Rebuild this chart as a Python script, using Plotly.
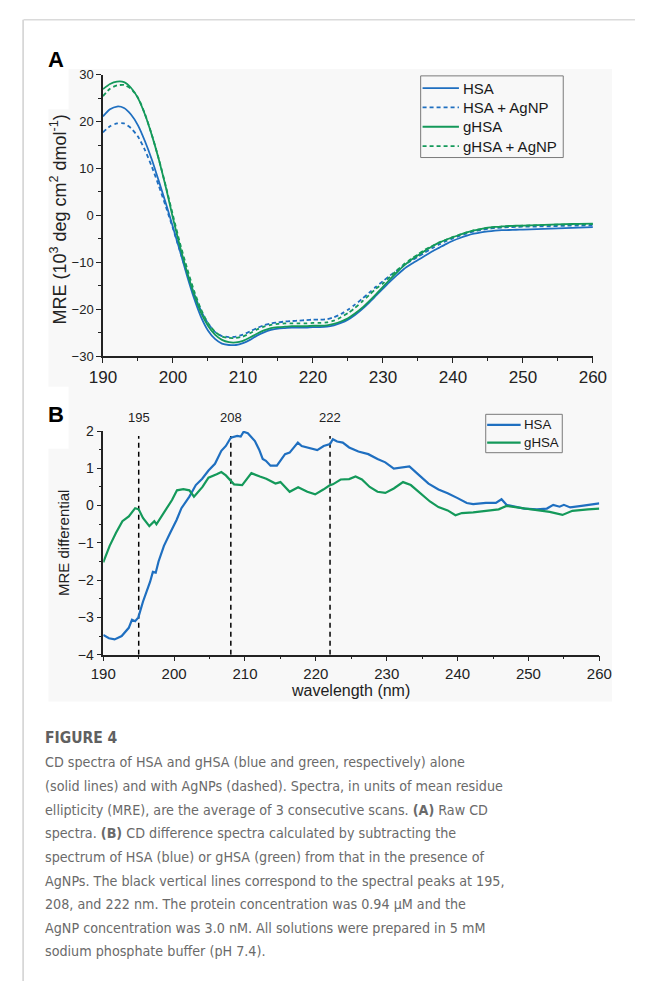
import plotly.graph_objects as go

W, H = 649, 989

# ---- Panel A: raw CD spectra (MRE, 10^3 deg cm^2 dmol^-1) ----
wl_a = list(range(190, 251)) + [252, 254, 256, 258, 260]

hsa = [21.1, 22.6, 23.2, 22.9, 21.5, 19.2, 15.8, 11.8, 7.2, 2.5,
       -2.5, -7.6, -12.8, -17.6, -21.6, -24.5, -26.3, -27.3, -27.6, -27.6,
       -27.2, -26.5, -25.6, -24.9, -24.4, -24.1, -24.0, -23.9, -23.9, -23.9,
       -23.8, -23.8, -23.7, -23.4, -22.9, -22.2, -21.2, -20.0, -18.6, -17.1,
       -15.6, -14.1, -12.7, -11.4, -10.4, -9.5, -8.6, -7.7, -6.9, -6.1,
       -5.4, -4.8, -4.3, -3.9, -3.6, -3.4, -3.25, -3.15, -3.1, -3.05,
       -3.0,
       -2.9, -2.8, -2.7, -2.6, -2.5]

hsa_agnp = [17.7, 19.0, 19.6, 19.6, 18.6, 16.8, 13.9, 10.3, 6.2, 1.8,
            -2.8, -7.6, -12.3, -16.6, -20.3, -23.0, -24.8, -25.7, -25.9, -25.8,
            -25.4, -24.7, -24.0, -23.4, -23.0, -22.8, -22.6, -22.5, -22.4, -22.3,
            -22.2, -22.2, -22.1, -21.7, -21.0, -20.1, -19.0, -17.8, -16.5, -15.2,
            -14.0, -12.8, -11.7, -10.6, -9.7, -8.8, -7.9, -7.0, -6.2, -5.5,
            -4.9, -4.3, -3.8, -3.4, -3.1, -2.85, -2.7, -2.6, -2.5, -2.45,
            -2.4,
            -2.35, -2.3, -2.2, -2.15, -2.1]

ghsa = [26.9, 28.0, 28.5, 28.4, 27.2, 25.0, 21.5, 17.0, 11.8, 5.9,
        -0.6, -6.6, -12.0, -16.8, -20.7, -23.5, -25.4, -26.5, -27.0, -27.05,
        -26.7, -26.0, -25.2, -24.5, -24.0, -23.8, -23.7, -23.6, -23.6, -23.6,
        -23.5, -23.5, -23.4, -23.1, -22.6, -21.9, -20.9, -19.7, -18.3, -16.8,
        -15.2, -13.6, -12.1, -10.7, -9.5, -8.5, -7.5, -6.6, -5.8, -5.2,
        -4.6, -4.1, -3.6, -3.2, -2.9, -2.6, -2.45, -2.35, -2.25, -2.2,
        -2.15,
        -2.05, -1.95, -1.85, -1.8, -1.75]

ghsa_agnp = [25.4, 27.0, 27.7, 27.8, 27.0, 25.1, 21.6, 17.1, 11.9, 6.1,
             0.0, -5.9, -11.2, -16.0, -20.0, -22.9, -24.8, -25.8, -26.1, -26.1,
             -25.8, -25.1, -24.3, -23.7, -23.3, -23.1, -23.0, -23.0, -23.0, -23.0,
             -22.9, -22.9, -22.8, -22.4, -21.7, -20.8, -19.7, -18.4, -17.0, -15.6,
             -14.5, -13.1, -11.7, -10.4, -9.3, -8.3, -7.3, -6.5, -5.8, -5.2,
             -4.6, -4.1, -3.6, -3.2, -2.9, -2.65, -2.5, -2.4, -2.3, -2.25,
             -2.2,
             -2.1, -2.0, -1.95, -1.9, -1.85]

# ---- Panel B: CD difference spectra (with AgNP minus protein alone) ----
wl_b_hsa = [190, 190.8, 191.6, 192.6, 193.6, 194.05, 194.5, 194.95, 195.6, 196.3,
            196.6, 197.0, 197.4, 197.8, 198.56, 199.45, 200.36, 201.03, 202.15, 203.06,
            203.96, 204.85, 205.76, 206.66, 207.3, 208.0, 208.9, 209.4, 209.8, 210.4,
            211.4, 212.0, 212.5, 212.95, 213.6, 214.5, 215.0, 215.65, 216.3, 216.8,
            217.46, 218.0, 218.8, 219.5, 220.2, 221.1, 222.0, 222.4, 223.0, 223.8,
            224.7, 226.0, 227.4, 228.7, 229.8, 231.0, 232.3, 233.2, 234.6, 235.9,
            237.3, 238.6, 240.0, 241.3, 242.2, 243.0, 244.0, 245.4, 246.2, 246.9,
            248.1, 249.4, 251.2, 252.6, 253.5, 254.4, 255.0, 255.9, 257.5, 260]
diff_hsa = [-3.47, -3.56, -3.59, -3.5, -3.28, -3.06, -3.1, -3.0, -2.58, -2.22,
            -2.05, -1.78, -1.8, -1.5, -1.08, -0.73, -0.38, -0.07, 0.24, 0.55,
            0.72, 0.94, 1.12, 1.47, 1.6, 1.82, 1.87, 1.85, 1.98, 1.94,
            1.73, 1.5, 1.25, 1.2, 1.07, 1.07, 1.2, 1.38, 1.42, 1.55,
            1.69, 1.6, 1.56, 1.52, 1.49, 1.6, 1.65, 1.78, 1.72, 1.69,
            1.56, 1.45, 1.38, 1.25, 1.16, 0.99, 1.03, 1.05, 0.81, 0.59,
            0.43, 0.33, 0.2, 0.07, 0.04, 0.06, 0.07, 0.07, 0.17, 0.02,
            -0.03, -0.08, -0.1, -0.08, 0.02, -0.03, 0.02, -0.05, -0.01, 0.06]

wl_b_ghsa = [190, 190.9, 191.8, 192.7, 193.6, 194.5, 195.0, 195.6, 196.5, 197.2,
             197.5, 198.3, 199.0, 199.7, 200.4, 201.3, 202.15, 202.8, 204.0, 204.85,
             206.0, 206.66, 207.3, 208.45, 209.6, 210.9, 212.1, 213.0, 214.3, 215.0,
             216.3, 217.5, 218.8, 219.9, 221.05, 222.0, 222.4, 223.5, 224.7, 225.6,
             226.5, 227.6, 228.7, 229.8, 231.0, 232.3, 233.4, 234.8, 236.1, 237.3,
             238.6, 239.7, 240.6, 242.2, 244.0, 245.8, 246.9, 248.1, 249.4, 251.2,
             253.0, 254.8, 256.2, 258.4, 260]
diff_ghsa = [-1.52, -1.08, -0.73, -0.42, -0.29, -0.07, -0.1, -0.33, -0.55, -0.42,
             -0.5, -0.25, -0.07, 0.15, 0.41, 0.44, 0.41, 0.24, 0.5, 0.75,
             0.84, 0.9, 0.81, 0.57, 0.55, 0.87, 0.78, 0.72, 0.59, 0.63,
             0.37, 0.49, 0.37, 0.3, 0.43, 0.55, 0.57, 0.7, 0.71, 0.78,
             0.7, 0.5, 0.37, 0.34, 0.46, 0.63, 0.55, 0.33, 0.11, -0.04,
             -0.13, -0.26, -0.2, -0.18, -0.13, -0.1, -0.01, -0.04, -0.08, -0.12,
             -0.17, -0.25, -0.14, -0.1, -0.08]

peaks = [195, 208, 222]
peak_line_top = 1.87

caption_title = "FIGURE 4"
caption_lines = [
    "CD spectra of HSA and gHSA (blue and green, respectively) alone",
    "(solid lines) and with AgNPs (dashed). Spectra, in units of mean residue",
    "ellipticity (MRE), are the average of 3 consecutive scans. <b>(A)</b> Raw CD",
    "spectra. <b>(B)</b> CD difference spectra calculated by subtracting the",
    "spectrum of HSA (blue) or gHSA (green) from that in the presence of",
    "AgNPs. The black vertical lines correspond to the spectral peaks at 195,",
    "208, and 222 nm. The protein concentration was 0.94 μM and the",
    "AgNP concentration was 3.0 nM. All solutions were prepared in 5 mM",
    "sodium phosphate buffer (pH 7.4).",
]

BLUE = "#1f6fc0"
GREEN = "#14995a"
FONT = "Arial, Liberation Sans, sans-serif"
AXIS = "#222222"
DASH = "4px,3px"


def px_x(x):
    """Pixel column -> paper fraction."""
    return x / W


def px_y(y):
    """Pixel row -> paper fraction."""
    return 1 - y / H


fig = go.Figure()

# panel A traces
series_a = [
    ("HSA", hsa, BLUE, "solid"),
    ("HSA + AgNP", hsa_agnp, BLUE, DASH),
    ("gHSA", ghsa, GREEN, "solid"),
    ("gHSA + AgNP", ghsa_agnp, GREEN, DASH),
]
for name, vals, col, dash in series_a:
    fig.add_trace(go.Scatter(
        x=wl_a, y=vals, name=name, mode="lines", showlegend=False,
        line=dict(color=col, width=1.8, dash=dash, shape="spline", smoothing=0.6),
        xaxis="x", yaxis="y"))

# panel B peak markers
for p in peaks:
    fig.add_trace(go.Scatter(
        x=[p, p], y=[-4, peak_line_top], mode="lines", showlegend=False,
        line=dict(color="black", width=1.5, dash="5px,4px"),
        xaxis="x2", yaxis="y2", hoverinfo="skip"))

# panel B traces
series_b = [
    ("HSA", wl_b_hsa, diff_hsa, BLUE),
    ("gHSA", wl_b_ghsa, diff_ghsa, GREEN),
]
for name, xs, ys, col in series_b:
    fig.add_trace(go.Scatter(x=xs, y=ys, name=name, mode="lines", showlegend=False,
                             line=dict(color=col, width=2.2),
                             xaxis="x2", yaxis="y2"))

axis_common = dict(showline=True, linecolor=AXIS, linewidth=1.5, ticks="outside",
                   tickcolor=AXIS, tickwidth=1.3, ticklen=5, showgrid=False,
                   zeroline=False, mirror=False)

# pixel geometry of the two panels
a_left, a_right, a_top, a_bot = 93, 605, 67.7, 354
b_left, b_right, b_top, b_bot = 93.3, 611.7, 430, 657.3

fig.update_layout(
    width=W, height=H,
    margin=dict(l=0, r=0, t=0, b=0),
    paper_bgcolor="white", plot_bgcolor="rgba(0,0,0,0)",
    font=dict(family=FONT, color="#222222"),
    showlegend=False,
    xaxis=dict(domain=[px_x(a_left), px_x(a_right)], range=[190, 260], dtick=10,
               tickfont=dict(size=17), anchor="y",
               minor=dict(dtick=5, ticks="outside", ticklen=3, tickcolor=AXIS),
               **axis_common),
    yaxis=dict(domain=[px_y(a_bot), px_y(a_top)], range=[-30, 30], dtick=10,
               tickfont=dict(size=13), anchor="x",
               minor=dict(dtick=5, ticks="outside", ticklen=3, tickcolor=AXIS),
               **axis_common),
    xaxis2=dict(domain=[px_x(b_left), px_x(b_right)], range=[190, 260], dtick=10,
                tickfont=dict(size=15), anchor="y2",
                minor=dict(dtick=5, ticks="outside", ticklen=3, tickcolor=AXIS),
                **axis_common),
    yaxis2=dict(domain=[px_y(b_bot), px_y(b_top)], range=[-4, 2], dtick=1,
                tickfont=dict(size=14), anchor="x2",
                minor=dict(dtick=0.5, ticks="outside", ticklen=3, tickcolor=AXIS),
                **axis_common),
)

# page frame and light panel behind both charts
shapes = [
    dict(type="line", xref="paper", yref="paper", x0=px_x(10), x1=1,
         y0=px_y(12), y1=px_y(12), line=dict(color="#dadada", width=1.5)),
    dict(type="line", xref="paper", yref="paper", x0=px_x(9.5), x1=px_x(9.5),
         y0=px_y(12), y1=0, line=dict(color="#d0d0d0", width=1.5)),
    dict(type="rect", xref="paper", yref="paper", x0=px_x(36), x1=px_x(625),
         y0=px_y(705), y1=px_y(62), fillcolor="#f8f8f8", line=dict(width=0),
         layer="below"),
    dict(type="rect", xref="paper", yref="paper", x0=px_x(30), x1=px_x(57),
         y0=px_y(103), y1=px_y(40), fillcolor="white", line=dict(width=0),
         layer="below"),
    dict(type="rect", xref="paper", yref="paper", x0=px_x(30), x1=px_x(57),
         y0=px_y(448), y1=px_y(385), fillcolor="white", line=dict(width=0),
         layer="below"),
]
ann = []


# legend boxes, drawn as a framed key with line samples and labels
def add_key(entries, box, row0, row_step, sample_x, text_x, font_size, width):
    x0, x1, y0, y1 = box
    shapes.append(dict(type="rect", xref="paper", yref="paper",
                       x0=px_x(x0), x1=px_x(x1), y0=px_y(y1), y1=px_y(y0),
                       line=dict(color="#7a7a7a", width=1)))
    for i, (name, col, dash) in enumerate(entries):
        yy = row0 + i * row_step
        shapes.append(dict(type="line", xref="paper", yref="paper",
                           x0=px_x(sample_x[0]), x1=px_x(sample_x[1]),
                           y0=px_y(yy), y1=px_y(yy),
                           line=dict(color=col, width=width, dash=dash)))
        ann.append(dict(text=name, x=px_x(text_x), y=px_y(yy), xref="paper",
                        yref="paper", showarrow=False, xanchor="left",
                        yanchor="middle", font=dict(size=font_size, color="#1a1a1a")))


add_key([(n, c, d) for n, _, c, d in series_a], (425, 574, 69, 152),
        81.5, 19.6, (427, 465), 467.5, 15, 1.8)
add_key([(n, c, "solid") for n, _, _, c in series_b], (493, 573, 413, 452),
        423.7, 18.0, (494.5, 529.5), 530.5, 13.3, 2.2)

# panel letters
for letter, yy in (("A", 52), ("B", 413)):
    ann.append(dict(text=f"<b>{letter}</b>", x=px_x(44), y=px_y(yy), xref="paper",
                    yref="paper", showarrow=False, font=dict(size=22, color="black"),
                    xanchor="center", yanchor="middle"))
# axis titles
ann.append(dict(text="MRE (10<sup>3</sup> deg cm<sup>2</sup> dmol<sup>-1</sup>)",
                x=px_x(47), y=px_y(215), xref="paper", yref="paper", textangle=-90,
                showarrow=False, font=dict(size=18), xanchor="center", yanchor="middle"))
ann.append(dict(text="MRE differential", x=px_x(51), y=px_y(544), xref="paper",
                yref="paper", textangle=-90, showarrow=False, font=dict(size=15),
                xanchor="center", yanchor="middle"))
ann.append(dict(text="wavelength (nm)", x=px_x(352), y=px_y(694), xref="paper",
                yref="paper", showarrow=False, font=dict(size=16),
                xanchor="center", yanchor="middle"))
# peak labels
for p in peaks:
    ann.append(dict(text=str(p), x=p, y=px_y(416.5), xref="x2", yref="paper",
                    showarrow=False, font=dict(size=13), xanchor="center",
                    yanchor="middle"))
# caption
CAP_FONT = "DejaVu Sans Condensed, Roboto, sans-serif"
ann.append(dict(text=f"<b>{caption_title}</b>", x=px_x(30), y=px_y(742),
                xref="paper", yref="paper", showarrow=False, xanchor="left",
                yanchor="middle",
                font=dict(size=15.5, family=CAP_FONT, color="#606060")))
cap_y = [766.7, 790.7, 815, 838.7, 862.7, 887, 910.7, 935, 958.3]
for line, yy in zip(caption_lines, cap_y):
    ann.append(dict(text=line, x=px_x(30), y=px_y(yy), xref="paper", yref="paper",
                    showarrow=False, xanchor="left", yanchor="middle",
                    font=dict(size=14.2, family=CAP_FONT, color="#6a6a6a")))

fig.update_layout(shapes=shapes, annotations=ann)

fig.write_html("out.html")
